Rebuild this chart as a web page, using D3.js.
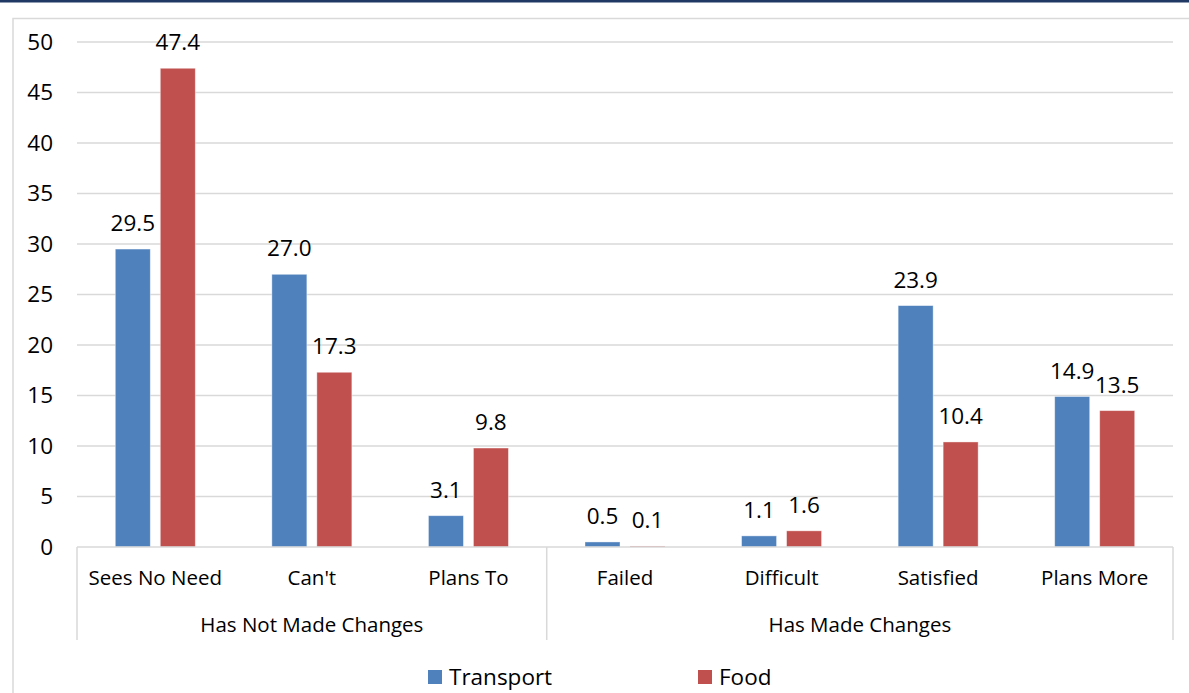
<!DOCTYPE html>
<html>
<head>
<meta charset="utf-8">
<script src="https://cdn.jsdelivr.net/npm/d3@7"></script>
<style>
  body { margin: 0; background: #fff; }
  svg { display: block; }
</style>
</head>
<body>
<script>
// chart data
var categories = ["Sees No Need", "Can't", "Plans To", "Failed", "Difficult", "Satisfied", "Plans More"];
var groups = ["Has Not Made Changes", "Has Made Changes"];
var groupSizes = [3, 4];
var seriesNames = ["Transport", "Food"];
var transport = [29.5, 27.0, 3.1, 0.5, 1.1, 23.9, 14.9];
var food = [47.4, 17.3, 9.8, 0.1, 1.6, 10.4, 13.5];
var yTicks = [0, 5, 10, 15, 20, 25, 30, 35, 40, 45, 50];

var colors = ["#4f81bd", "#c0504d"];
var FONT = "Open Sans, sans-serif";
var FS = "20.5px";     // category text
var NUM_FS = "22.5px"; // numbers

var width = 1189, height = 693;
var svg = d3.select("body").append("svg").attr("width", width).attr("height", height);

// navy top rule and chart frame
svg.append("rect").attr("x", 0).attr("y", 0).attr("width", width).attr("height", 2.5).attr("fill", "#1f3864");
svg.append("rect").attr("x", 13).attr("y", 18.5).attr("width", width).attr("height", height)
  .attr("fill", "none").attr("stroke", "#d9d9d9").attr("stroke-width", 1.5);

var plotLeft = 77, plotRight = 1173, plotTop = 42, plotBottom = 547;

var x = d3.scaleBand().domain(categories).range([plotLeft, plotRight]).paddingInner(0).paddingOuter(0);
var y = d3.scaleLinear().domain([0, 50]).range([plotBottom, plotTop]);
var series = [transport, food];

// gridlines
svg.append("g").selectAll("line").data(yTicks.slice(1)).join("line")
  .attr("x1", plotLeft).attr("x2", plotRight)
  .attr("y1", function(d) { return y(d); }).attr("y2", function(d) { return y(d); })
  .attr("stroke", "#d9d9d9").attr("stroke-width", 1.5);

// y labels
svg.append("g").selectAll("text").data(yTicks).join("text")
  .attr("x", 53).attr("y", function(d) { return y(d); })
  .attr("dy", "0.35em").attr("text-anchor", "end")
  .style("font-family", FONT).style("font-size", NUM_FS).attr("fill", "#000")
  .text(function(d) { return d; });

// bars
var barW = 35, gap = 10;
series.forEach(function(vals, s) {
  var off = s == 0 ? -gap / 2 - barW : gap / 2;
  var g = svg.append("g");
  g.selectAll("rect").data(vals).join("rect")
    .attr("x", function(d, i) { return x(categories[i]) + x.bandwidth() / 2 + off; })
    .attr("y", function(d) { return y(d); })
    .attr("width", barW)
    .attr("height", function(d) { return y(0) - y(d); })
    .attr("fill", colors[s])
    .attr("stroke", "#ffffff").attr("stroke-opacity", 0.5).attr("stroke-width", 0.8);
  g.selectAll("text").data(vals).join("text")
    .attr("x", function(d, i) { return x(categories[i]) + x.bandwidth() / 2 + off + barW / 2; })
    .attr("y", function(d) { return y(d) - 18; })
    .attr("text-anchor", "middle")
    .style("font-family", FONT).style("font-size", NUM_FS).attr("fill", "#000")
    .text(function(d) { return d.toFixed(1); });
});

// x axis line
svg.append("line").attr("x1", plotLeft).attr("x2", plotRight).attr("y1", plotBottom).attr("y2", plotBottom)
  .attr("stroke", "#d9d9d9").attr("stroke-width", 1.5);

// group separators
var bounds = [0];
groupSizes.forEach(function(n, i) { bounds.push(bounds[i] + n); });
svg.append("g").selectAll("line").data(bounds).join("line")
  .attr("x1", function(d) { return plotLeft + d * x.bandwidth(); })
  .attr("x2", function(d) { return plotLeft + d * x.bandwidth(); })
  .attr("y1", plotBottom).attr("y2", 640)
  .attr("stroke", "#d9d9d9").attr("stroke-width", 1.5);

// category labels
svg.append("g").selectAll("text").data(categories).join("text")
  .attr("x", function(d) { return x(d) + x.bandwidth() / 2; })
  .attr("y", 578).attr("dy", "0.35em").attr("text-anchor", "middle")
  .style("font-family", FONT).style("font-size", FS).attr("fill", "#000")
  .text(function(d) { return d; });

// group labels
svg.append("g").selectAll("text").data(groups).join("text")
  .attr("x", function(d, i) { return plotLeft + (bounds[i] + bounds[i + 1]) / 2 * x.bandwidth(); })
  .attr("y", 625).attr("dy", "0.35em").attr("text-anchor", "middle")
  .style("font-family", FONT).style("font-size", FS).attr("fill", "#000")
  .text(function(d) { return d; });

// legend
var legX = [428, 698];
var leg = svg.append("g").selectAll("g").data(seriesNames).join("g")
  .attr("transform", function(d, i) { return "translate(" + legX[i] + ",670)"; });
leg.append("rect").attr("width", 14).attr("height", 14).attr("fill", function(d, i) { return colors[i]; });
leg.append("text").attr("x", 21).attr("y", 7).attr("dy", "0.35em")
  .style("font-family", FONT).style("font-size", "22.5px").attr("fill", "#000")
  .text(function(d) { return d; });
</script>
</body>
</html>
